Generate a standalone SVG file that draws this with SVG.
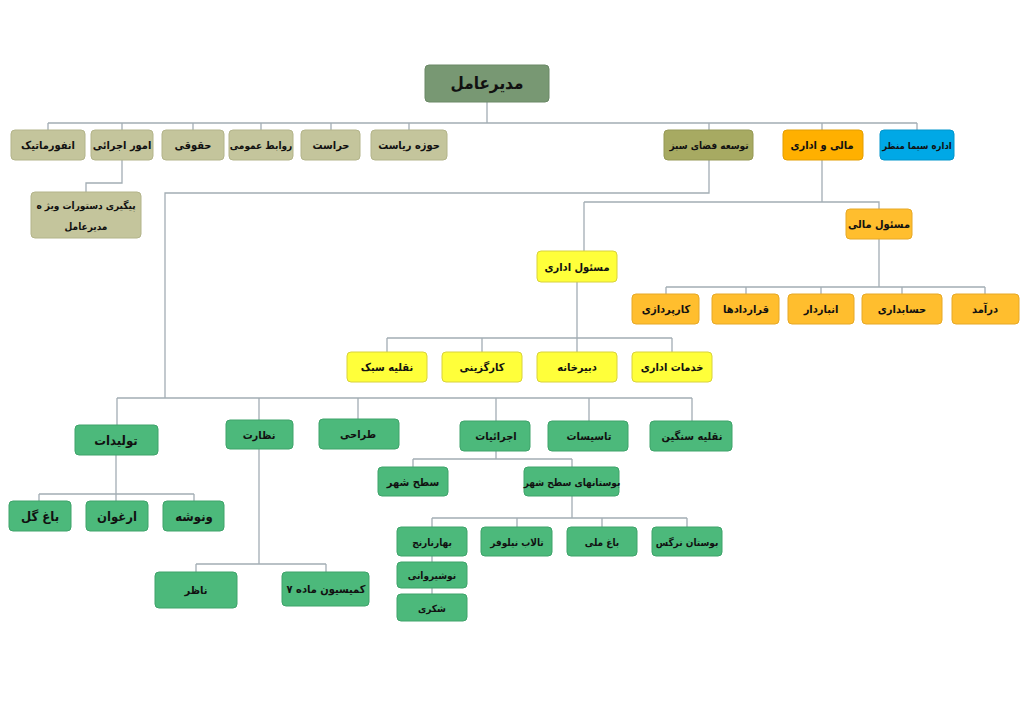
<svg xmlns="http://www.w3.org/2000/svg" width="1024" height="724" viewBox="0 0 1024 724">
<style>
text{font-family:"DejaVu Sans Condensed","DejaVu Sans",sans-serif;font-stretch:condensed;font-weight:bold;font-size:11px;fill:#111;text-anchor:middle;dominant-baseline:central}
.big{font-size:17px}
.mid{font-size:13px}
.sm{font-size:10px}
.xs{font-size:9.5px}
rect{rx:4;ry:4;stroke-width:1}
.root{fill:#789873;stroke:#6a8866}
.kh{fill:#C4C59C;stroke:#b3b48a}
.ol{fill:#A7AA62;stroke:#959855}
.or{fill:#FFB000;stroke:#e39e00}
.bl{fill:#00A8E6;stroke:#0095cc}
.lo{fill:#FFBE2E;stroke:#e6a826}
.ye{fill:#FFFF3A;stroke:#d8d23c}
.gr{fill:#4CB97B;stroke:#3ea36a}
#connectors path{fill:none;stroke:#A3ADB4;stroke-width:1.3}
</style>
<rect width="1024" height="724" fill="#fff" style="rx:0"/>
<g id="connectors">
<path d="M487 102V123M48 123H917M48 123V130M122 123V130M193 123V130M261 123V130M331 123V130M409 123V130M709 123V130M822 123V130M917 123V130"/>
<path d="M122 160V183H86V192"/>
<path d="M709 160V193H165V398"/>
<path d="M822 160V202M584 202H879V209M584 202V251"/>
<path d="M879 239V287M666 287H985M666 287V294M746 287V294M821 287V294M902 287V294M985 287V294"/>
<path d="M577 282V338M387 338H672M387 338V352M482 338V352M577 338V352M672 338V352"/>
<path d="M117 398H692M117 398V425M259 398V420M358 398V419M496 398V421M589 398V421M692 398V421"/>
<path d="M116 455V494M39 494H194M39 494V501M116 494V501M194 494V501"/>
<path d="M259 449V564M196 564H326M196 564V572M326 564V572"/>
<path d="M496 451V459M413 459H572M413 459V467M572 459V467"/>
<path d="M572 496V518M432 518H687M432 518V527M517 518V527M602 518V527M687 518V527M432 556V594"/>
</g>
<g id="n-root"><rect class="root" x="425" y="65" width="124" height="37"/><text class="big" x="487" y="83">مدیرعامل</text></g>
<g id="n-informatic"><rect class="kh" x="11" y="130" width="74" height="30"/><text x="48" y="145">انفورماتیک</text></g>
<g id="n-omur"><rect class="kh" x="91" y="130" width="62" height="30"/><text x="122" y="145">امور اجرائی</text></g>
<g id="n-hoghughi"><rect class="kh" x="162" y="130" width="62" height="30"/><text x="193" y="145">حقوقی</text></g>
<g id="n-ravabet"><rect class="kh" x="229" y="130" width="64" height="30"/><text class="sm" x="261" y="145">روابط عمومی</text></g>
<g id="n-herasat"><rect class="kh" x="301" y="130" width="59" height="30"/><text x="331" y="145">حراست</text></g>
<g id="n-riasat"><rect class="kh" x="371" y="130" width="76" height="30"/><text x="409" y="145">حوزه ریاست</text></g>
<g id="n-peygiri"><rect class="kh" x="31" y="192" width="110" height="46"/><text class="sm" x="86" y="205">پیگیری دستورات ویژ ه</text><text class="sm" x="86" y="226">مدیرعامل</text></g>
<g id="n-fazasabz"><rect class="ol" x="664" y="130" width="89" height="30"/><text class="sm" x="709" y="145">توسعه فضای سبز</text></g>
<g id="n-mali"><rect class="or" x="783" y="130" width="80" height="30"/><text x="822" y="145">مالی و اداری</text></g>
<g id="n-sima"><rect class="bl" x="880" y="130" width="74" height="30"/><text class="xs" x="917" y="145">اداره سیما منظر</text></g>
<g id="n-masmali"><rect class="lo" x="846" y="209" width="66" height="30"/><text x="879" y="224">مسئول مالی</text></g>
<g id="n-karpardazi"><rect class="lo" x="632" y="294" width="67" height="30"/><text x="666" y="309">کارپردازی</text></g>
<g id="n-gharardad"><rect class="lo" x="712" y="294" width="67" height="30"/><text x="746" y="309">قراردادها</text></g>
<g id="n-anbardar"><rect class="lo" x="788" y="294" width="66" height="30"/><text x="821" y="309">انباردار</text></g>
<g id="n-hesabdari"><rect class="lo" x="862" y="294" width="80" height="30"/><text x="902" y="309">حسابداری</text></g>
<g id="n-daramad"><rect class="lo" x="952" y="294" width="67" height="30"/><text x="985" y="309">درآمد</text></g>
<g id="n-masedari"><rect class="ye" x="537" y="251" width="80" height="31"/><text x="577" y="267">مسئول اداری</text></g>
<g id="n-naghliyesabok"><rect class="ye" x="347" y="352" width="80" height="30"/><text x="387" y="367">نقلیه سبک</text></g>
<g id="n-kargozini"><rect class="ye" x="442" y="352" width="80" height="30"/><text x="482" y="367">کارگزینی</text></g>
<g id="n-dabirkhane"><rect class="ye" x="537" y="352" width="80" height="30"/><text x="577" y="367">دبیرخانه</text></g>
<g id="n-khadamat"><rect class="ye" x="632" y="352" width="80" height="30"/><text x="672" y="367">خدمات اداری</text></g>
<g id="n-tolidat"><rect class="gr" x="75" y="425" width="83" height="30"/><text class="mid" x="116" y="440">تولیدات</text></g>
<g id="n-nezarat"><rect class="gr" x="226" y="420" width="67" height="29"/><text x="259" y="435">نظارت</text></g>
<g id="n-tarahi"><rect class="gr" x="319" y="419" width="80" height="30"/><text x="358" y="434">طراحی</text></g>
<g id="n-ejraiyat"><rect class="gr" x="460" y="421" width="70" height="30"/><text x="496" y="436">اجرائیات</text></g>
<g id="n-tasisat"><rect class="gr" x="548" y="421" width="80" height="30"/><text x="589" y="436">تاسیسات</text></g>
<g id="n-sangin"><rect class="gr" x="650" y="421" width="82" height="30"/><text x="692" y="436">نقلیه سنگین</text></g>
<g id="n-baghgol"><rect class="gr" x="9" y="501" width="62" height="30"/><text class="mid" x="40" y="516">باغ گل</text></g>
<g id="n-arghavan"><rect class="gr" x="86" y="501" width="62" height="30"/><text class="mid" x="117" y="516">ارغوان</text></g>
<g id="n-vanoshe"><rect class="gr" x="163" y="501" width="61" height="30"/><text class="mid" x="194" y="516">ونوشه</text></g>
<g id="n-nazer"><rect class="gr" x="155" y="572" width="82" height="36"/><text x="196" y="590">ناظر</text></g>
<g id="n-komision"><rect class="gr" x="282" y="572" width="87" height="34"/><text x="326" y="589">کمیسیون ماده ۷</text></g>
<g id="n-sathshahr"><rect class="gr" x="378" y="467" width="70" height="29"/><text x="413" y="482">سطح شهر</text></g>
<g id="n-bustanha"><rect class="gr" x="524" y="467" width="95" height="29"/><text class="sm" x="572" y="482">بوستانهای سطح شهر</text></g>
<g id="n-baharnarenj"><rect class="gr" x="397" y="527" width="70" height="29"/><text class="sm" x="432" y="542">بهارنارنج</text></g>
<g id="n-talab"><rect class="gr" x="481" y="527" width="71" height="29"/><text class="sm" x="517" y="542">تالاب نیلوفر</text></g>
<g id="n-baghmelli"><rect class="gr" x="567" y="527" width="70" height="29"/><text class="sm" x="602" y="542">باغ ملی</text></g>
<g id="n-narges"><rect class="gr" x="652" y="527" width="70" height="29"/><text class="sm" x="687" y="542">بوستان نرگس</text></g>
<g id="n-noshirvani"><rect class="gr" x="397" y="562" width="70" height="26"/><text class="sm" x="432" y="575">نوشیروانی</text></g>
<g id="n-shekari"><rect class="gr" x="397" y="594" width="70" height="27"/><text class="sm" x="432" y="608">شکری</text></g>
</svg>
